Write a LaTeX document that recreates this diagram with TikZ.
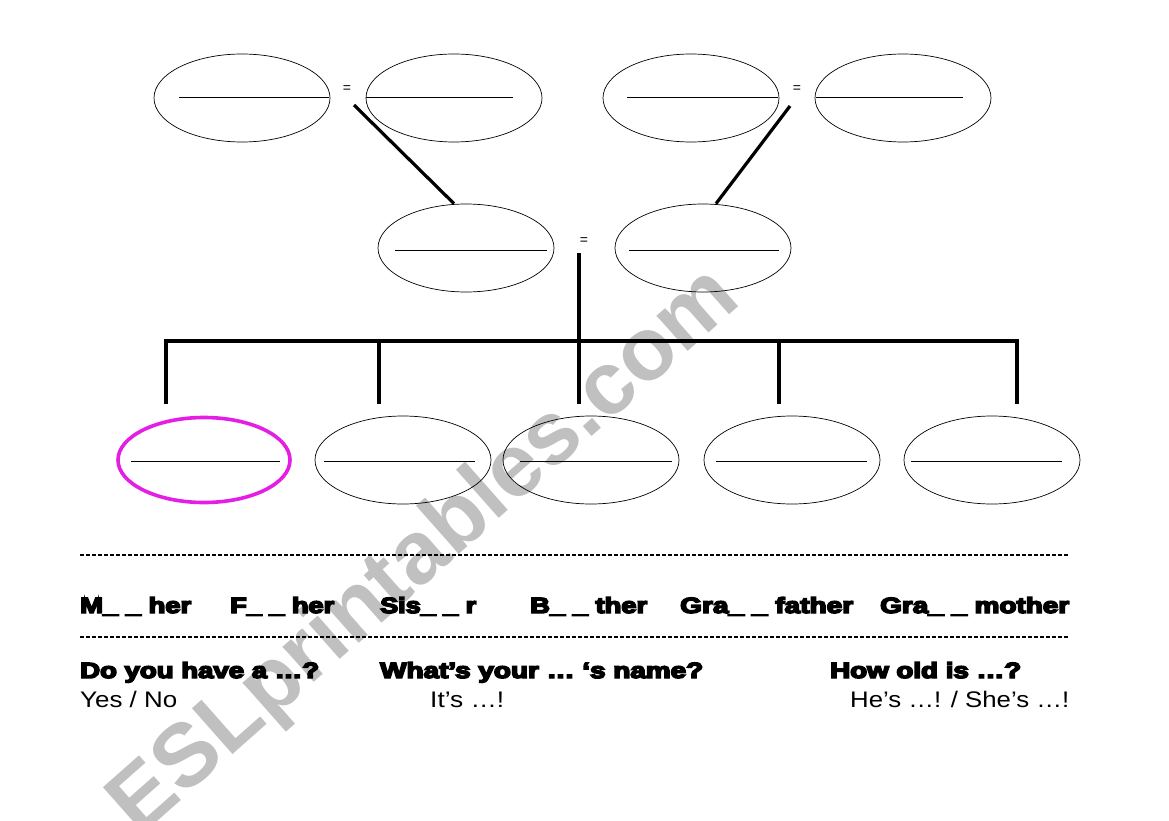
\documentclass[tikz,border=0pt]{standalone}
\usepackage{fontspec}
\usepackage{graphicx}
\setmainfont{Liberation Sans}
\newfontfamily\heavy[FakeBold=6.5]{Liberation Sans Bold}
\usetikzlibrary{shapes.geometric}
\definecolor{wmgray}{RGB}{192,192,192}
\definecolor{pinkline}{RGB}{228,30,228}
\tikzset{
  oval/.style={ellipse, draw=black, line width=0.7pt, minimum width=176pt, minimum height=88pt, inner sep=0pt},
  pinkoval/.style={oval, draw=pinkline, line width=3.6pt, minimum width=172pt, minimum height=85pt},
  blank/.style={line width=0.9pt},
  link/.style={line width=3.2pt},
  dotrule/.style={line width=1.2pt, dash pattern=on 4pt off 2pt},
  eqsign/.style={font=\fontsize{14}{14}\selectfont, inner sep=0pt},
  heavytxt/.style={anchor=base west, inner sep=0pt, font=\heavy\fontsize{22}{22}\selectfont},
  plaintxt/.style={anchor=base west, inner sep=0pt, font=\fontsize{22.5}{22.5}\selectfont},
  watermark/.style={text=wmgray, rotate=41.5, inner sep=0pt, font=\bfseries\fontsize{89}{89}\selectfont}
}
\newcommand{\fitw}[2]{\resizebox{#1pt}{\height}{#2}}
\begin{document}
\begin{tikzpicture}[x=1pt,y=-1pt]
\useasboundingbox (0,0) rectangle (1169,821);
\fill[white] (0,0) rectangle (1169,821);

% watermark
\node[watermark] (wm) at (426,553) {ESLprintables.com};

% top generation
\node[oval] (e1) at (242,98) {};
\node[oval] (e2) at (454,98) {};
\node[oval] (e4) at (691,98) {};
\node[oval] (e5) at (903,98) {};
\node[eqsign] (eq1) at (347,89) {=};
\node[eqsign] (eq2) at (797,89) {=};

% middle generation
\node[oval] (e3) at (466,248) {};
\node[oval] (e6) at (703,248) {};
\node[eqsign] (eq3) at (584,241) {=};

% children
\node[pinkoval] (b1) at (204,460) {};
\node[oval] (b2) at (403,460) {};
\node[oval] (b3) at (591,460) {};
\node[oval] (b4) at (792,460) {};
\node[oval] (b5) at (992,460) {};

% writing lines inside ovals
\draw[blank] ([xshift=-63pt,yshift=1pt]e1.center) -- ([xshift=87pt,yshift=1pt]e1.center);
\draw[blank] ([xshift=-88pt,yshift=1pt]e2.center) -- ([xshift=59pt,yshift=1pt]e2.center);
\draw[blank] ([xshift=-64pt,yshift=1pt]e4.center) -- ([xshift=87pt,yshift=1pt]e4.center);
\draw[blank] ([xshift=-87pt,yshift=1pt]e5.center) -- ([xshift=60pt,yshift=1pt]e5.center);
\draw[blank] ([xshift=-71pt,yshift=-2pt]e3.center) -- ([xshift=81pt,yshift=-2pt]e3.center);
\draw[blank] ([xshift=-74pt,yshift=-2pt]e6.center) -- ([xshift=76pt,yshift=-2pt]e6.center);
\draw[blank] ([xshift=-73pt,yshift=-1pt]b1.center) -- ([xshift=76pt,yshift=-1pt]b1.center);
\draw[blank] ([xshift=-79pt,yshift=-1pt]b2.center) -- ([xshift=72pt,yshift=-1pt]b2.center);
\draw[blank] ([xshift=-71pt,yshift=-1pt]b3.center) -- ([xshift=81pt,yshift=-1pt]b3.center);
\draw[blank] ([xshift=-76pt,yshift=-1pt]b4.center) -- ([xshift=75pt,yshift=-1pt]b4.center);
\draw[blank] ([xshift=-81pt,yshift=-1pt]b5.center) -- ([xshift=70pt,yshift=-1pt]b5.center);

% connectors
\coordinate (m1) at (354,105);
\coordinate (m2) at (790,106);
\coordinate (m3) at (579,253);
\draw[link] (m1) -- ([xshift=-12pt]e3.north);
\draw[link] (m2) -- ([xshift=13pt]e6.north);
\coordinate (j1) at (166,341);
\coordinate (j2) at (379,341);
\coordinate (j4) at (779,341);
\coordinate (j5) at (1017,341);
\coordinate (t1) at (166,404);
\coordinate (t2) at (379,404);
\coordinate (t3) at (579,404);
\coordinate (t4) at (779,404);
\coordinate (t5) at (1017,404);
\draw[link] (m3) -- (t3);
\draw[link] (t1) -- (j1) -- (j5) -- (t5);
\draw[link] (j2) -- (t2);
\draw[link] (j4) -- (t4);

% dotted rules
\coordinate (r1a) at (80,555);
\coordinate (r1b) at (1069,555);
\coordinate (r2a) at (80,637);
\coordinate (r2b) at (1069,637);
\draw[dotrule] (r1a) -- (r1b);
\draw[dotrule] (r2a) -- (r2b);

% word row
\node[heavytxt] (w1) at (80,613) {\fitw{111}{M\_ \_ her}};
\node[heavytxt] (w2) at (230,613) {\fitw{104}{F\_ \_ her}};
\node[heavytxt] (w3) at (380,613) {\fitw{96}{Sis\_ \_ r}};
\node[heavytxt] (w4) at (530,613) {\fitw{117}{B\_ \_ ther}};
\node[heavytxt] (w5) at (680,613) {\fitw{173}{Gra\_ \_ father}};
\node[heavytxt] (w6) at (880,613) {\fitw{189}{Gra\_ \_ mother}};

% questions
\node[heavytxt] (q1) at (80,678) {\fitw{239}{Do you have a …?}};
\node[heavytxt] (q2) at (380,678) {\fitw{323}{What’s your … ‘s name?}};
\node[heavytxt] (q3) at (830,678) {\fitw{191}{How old is …?}};

% answers
\node[plaintxt] (a1) at (80,707) {\fitw{97}{Yes / No}};
\node[plaintxt] (a2) at (430,707) {\fitw{74}{It’s …!}};
\node[plaintxt] (a3) at (850,707) {\fitw{219}{He’s …! / She’s …!}};
\end{tikzpicture}
\end{document}
